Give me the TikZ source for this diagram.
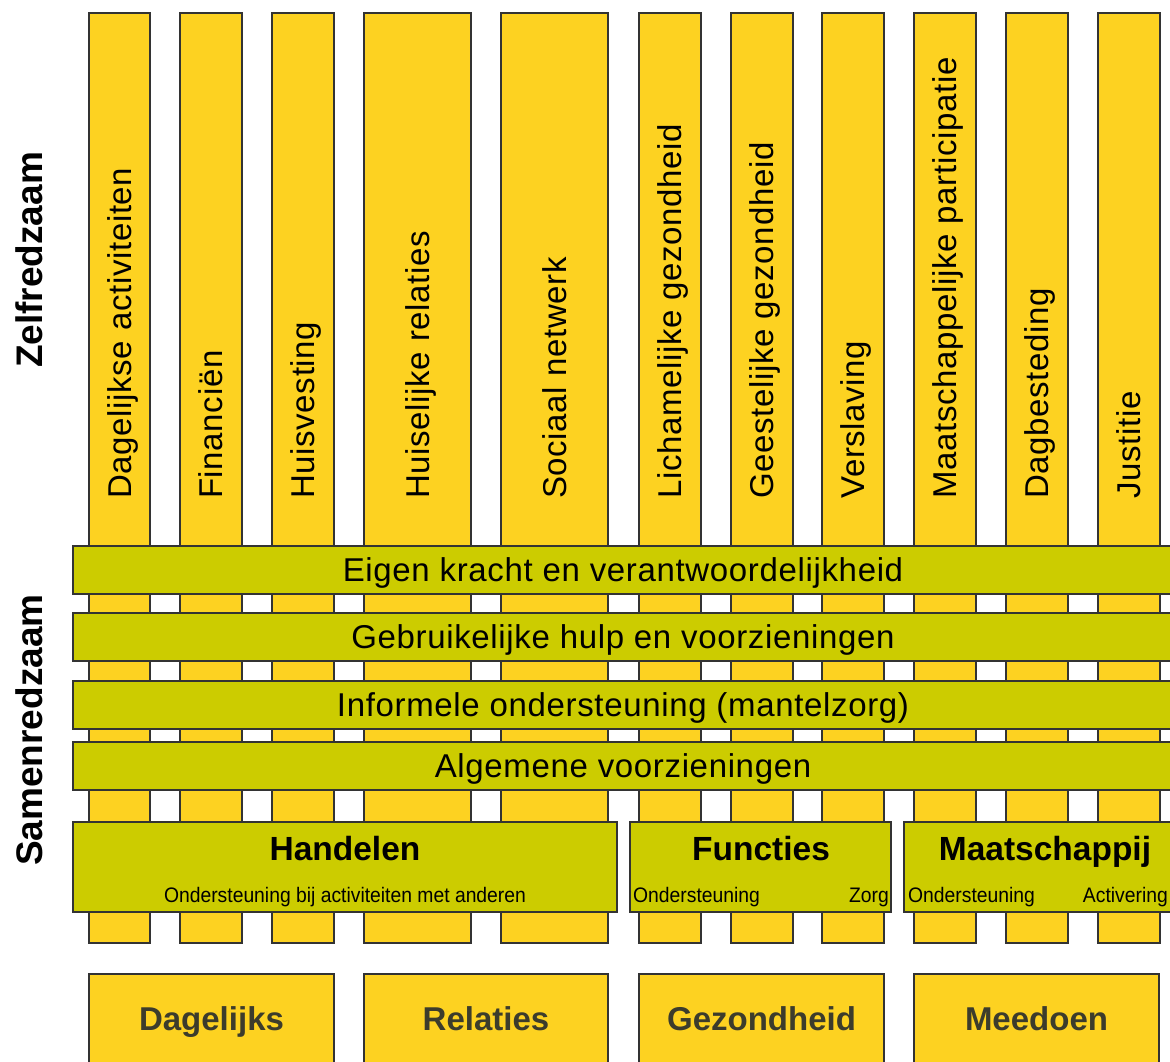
\documentclass[tikz,border=0pt]{standalone}
\usepackage{fontspec}
\setmainfont{Liberation Sans}
\newfontfamily\spacedf{Liberation Sans}[LetterSpace=2]
\newfontfamily\narrowf{Liberation Sans}[FakeStretch=0.92]
\definecolor{pillar}{HTML}{FDD221}
\definecolor{band}{HTML}{CCCC00}
\definecolor{edge}{HTML}{333333}
\definecolor{dimtext}{HTML}{3C3C2C}
\tikzset{
  pillarbox/.style={fill=pillar, draw=edge, line width=1.7pt},
  bandbox/.style={fill=band, draw=edge, line width=1.7pt},
  pillartext/.style={rotate=90, anchor=west, inner sep=0pt,
    font=\spacedf\fontsize{33}{33}\selectfont, text height=23.6pt, text depth=0pt},
  bandtext/.style={inner sep=0pt, font=\spacedf\fontsize{33}{33}\selectfont,
    text height=23.6pt, text depth=0pt},
  titletext/.style={inner sep=0pt, font=\bfseries\fontsize{33.5}{33.5}\selectfont,
    text height=24pt, text depth=0pt},
  smalltext/.style={inner sep=0pt, font=\narrowf\fontsize{21}{21}\selectfont,
    text height=15pt, text depth=0pt},
  bottomtext/.style={inner sep=0pt, text=dimtext, font=\bfseries\fontsize{33}{33}\selectfont,
    text height=23.6pt, text depth=0pt},
  sidetext/.style={rotate=90, inner sep=0pt, font=\bfseries\fontsize{37}{37}\selectfont,
    text height=26.5pt, text depth=0pt}
}
\begin{document}
\begin{tikzpicture}[x=1pt, y=-1pt]
\useasboundingbox (0,0) rectangle (1170,1061);
\clip (0,0) rectangle (1170,1061);
\fill[white] (0,0) rectangle (1170,1061);
% pillars
\foreach \l/\r/\nm/\txt in {
  89/150/p1/Dagelijkse activiteiten,
  180/242/p2/Financiën,
  272/334/p3/Huisvesting,
  364/471/p4/Huiselijke relaties,
  501/608/p5/Sociaal netwerk,
  639/701/p6/Lichamelijke gezondheid,
  731/793/p7/Geestelijke gezondheid,
  822/884/p8/Verslaving,
  914/976/p9/Maatschappelijke participatie,
  1006/1068/p10/Dagbesteding,
  1098/1160/p11/Justitie}
{
  \draw[pillarbox] (\l,13) rectangle (\r,943);
  \node[pillartext] (\nm) at ({(\l+\r)/2},499) {\txt};
}
% side labels
\node[sidetext] (zelf) at (28.8,260) {Zelfredzaam};
\node[sidetext] (samen) at (28.8,730) {Samenredzaam};
% bands
\draw[bandbox] (73,546) rectangle (1180,594);
\node[bandtext] (b1) at (623,570) {Eigen kracht en verantwoordelijkheid};
\draw[bandbox] (73,613) rectangle (1180,661);
\node[bandtext] (b2) at (623,637) {Gebruikelijke hulp en voorzieningen};
\draw[bandbox] (73,681) rectangle (1180,729);
\node[bandtext] (b3) at (623,705) {Informele ondersteuning (mantelzorg)};
\draw[bandbox] (73,742) rectangle (1180,790);
\node[bandtext] (b4) at (623,766) {Algemene voorzieningen};
% domain boxes
\draw[bandbox] (73,822) rectangle (617,912);
\node[titletext] (handelen) at (345,848) {Handelen};
\node[smalltext] (hsub) at (345,894.5) {Ondersteuning bij activiteiten met anderen};
\draw[bandbox] (630,822) rectangle (891,912);
\node[titletext] (functies) at (761,848) {Functies};
\node[smalltext, anchor=west] (fsub1) at (633,894.5) {Ondersteuning};
\node[smalltext, anchor=east] (fsub2) at (889,894.5) {Zorg};
\draw[bandbox] (904,822) rectangle (1186,912);
\node[titletext] (maatsch) at (1045,848) {Maatschappij};
\node[smalltext, anchor=west] (msub1) at (908,894.5) {Ondersteuning};
\node[smalltext, anchor=east] (msub2) at (1168,894.5) {Activering};
% bottom boxes
\draw[pillarbox] (89,974) rectangle (334,1080);
\node[bottomtext] (dag) at (211.5,1019) {Dagelijks};
\draw[pillarbox] (364,974) rectangle (608,1080);
\node[bottomtext] (rel) at (486,1019) {Relaties};
\draw[pillarbox] (639,974) rectangle (884,1080);
\node[bottomtext] (gez) at (761.5,1019) {Gezondheid};
\draw[pillarbox] (914,974) rectangle (1159,1080);
\node[bottomtext] (mee) at (1036.5,1019) {Meedoen};
\end{tikzpicture}
\end{document}
